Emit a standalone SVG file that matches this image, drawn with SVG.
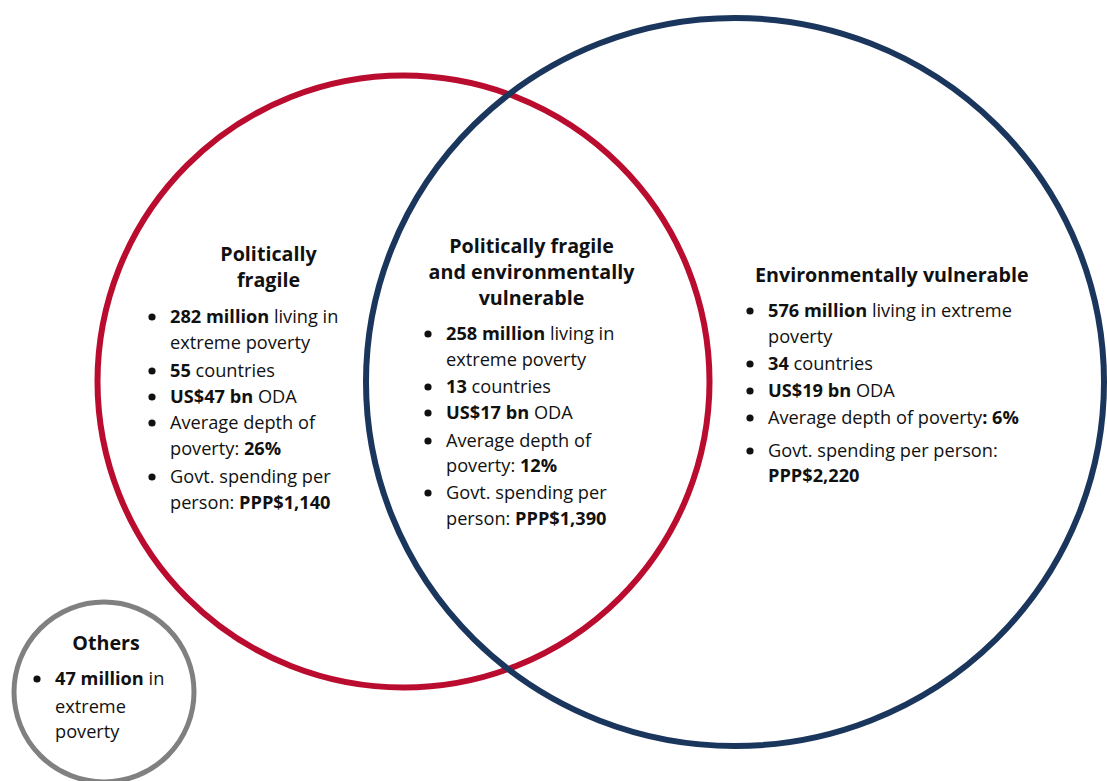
<svg xmlns="http://www.w3.org/2000/svg" width="1107" height="781" viewBox="0 0 1107 781">
<style>
.t{font-family:"Open Sans","Noto Sans","Liberation Sans",sans-serif;font-size:18.2px;fill:#111}
.h{font-family:"Open Sans","Noto Sans","Liberation Sans",sans-serif;font-size:19.7px;font-weight:bold;fill:#111}
.b{font-weight:bold}
.ring{fill:none}
</style>
<defs>
<circle id="dot" r="3.6" fill="#111"/>
</defs>
<rect width="1107" height="781" fill="#fff"/>
<g id="politically-fragile">
<circle class="ring" cx="403.5" cy="381.5" r="306" stroke="#BA0C2F" stroke-width="6"/>
<text class="h" x="268.5" y="261" text-anchor="middle">Politically</text>
<text class="h" x="268.5" y="287" text-anchor="middle">fragile</text>
<use href="#dot" x="152" y="317"/>
<text class="t" x="170" y="323"><tspan class="b">282 million</tspan> living in</text>
<text class="t" x="170" y="349">extreme poverty</text>
<use href="#dot" x="152" y="371"/>
<text class="t" x="170" y="377"><tspan class="b">55</tspan> countries</text>
<use href="#dot" x="152" y="397"/>
<text class="t" x="170" y="403"><tspan class="b">US$47 bn</tspan> ODA</text>
<use href="#dot" x="152" y="423"/>
<text class="t" x="170" y="429">Average depth of</text>
<text class="t" x="170" y="455">poverty: <tspan class="b">26%</tspan></text>
<use href="#dot" x="152" y="477"/>
<text class="t" x="170" y="483">Govt. spending per</text>
<text class="t" x="170" y="509">person: <tspan class="b">PPP$1,140</tspan></text>
</g>
<g id="environmentally-vulnerable">
<ellipse class="ring" cx="735" cy="382" rx="369" ry="364" stroke="#1B365D" stroke-width="6"/>
<text class="h" x="755" y="282">Environmentally vulnerable</text>
<use href="#dot" x="750" y="311"/>
<text class="t" x="768" y="317"><tspan class="b">576 million</tspan> living in extreme</text>
<text class="t" x="768" y="343">poverty</text>
<use href="#dot" x="750" y="364"/>
<text class="t" x="768" y="370"><tspan class="b">34</tspan> countries</text>
<use href="#dot" x="750" y="391"/>
<text class="t" x="768" y="397"><tspan class="b">US$19 bn</tspan> ODA</text>
<use href="#dot" x="750" y="418"/>
<text class="t" x="768" y="424">Average depth of poverty<tspan class="b">: 6%</tspan></text>
<use href="#dot" x="750" y="451"/>
<text class="t" x="768" y="457">Govt. spending per person:</text>
<text class="t" x="768" y="482"><tspan class="b">PPP$2,220</tspan></text>
</g>
<g id="overlap">
<text class="h" x="531.5" y="253" text-anchor="middle">Politically fragile</text>
<text class="h" x="531.5" y="279" text-anchor="middle">and environmentally</text>
<text class="h" x="531.5" y="305" text-anchor="middle">vulnerable</text>
<use href="#dot" x="428" y="334"/>
<text class="t" x="446" y="340"><tspan class="b">258 million</tspan> living in</text>
<text class="t" x="446" y="366">extreme poverty</text>
<use href="#dot" x="428" y="387"/>
<text class="t" x="446" y="393"><tspan class="b">13</tspan> countries</text>
<use href="#dot" x="428" y="413"/>
<text class="t" x="446" y="419"><tspan class="b">US$17 bn</tspan> ODA</text>
<use href="#dot" x="428" y="441"/>
<text class="t" x="446" y="447">Average depth of</text>
<text class="t" x="446" y="472">poverty: <tspan class="b">12%</tspan></text>
<use href="#dot" x="428" y="493"/>
<text class="t" x="446" y="499">Govt. spending per</text>
<text class="t" x="446" y="525">person: <tspan class="b">PPP$1,390</tspan></text>
</g>
<g id="others">
<circle class="ring" cx="104" cy="692" r="90" stroke="#808080" stroke-width="5"/>
<text class="h" x="106" y="650" text-anchor="middle">Others</text>
<use href="#dot" x="37" y="679"/>
<text class="t" x="55" y="685"><tspan class="b">47 million</tspan> in</text>
<text class="t" x="55" y="713">extreme</text>
<text class="t" x="55" y="738">poverty</text>
</g>
<g id="connectors"/>
</svg>
